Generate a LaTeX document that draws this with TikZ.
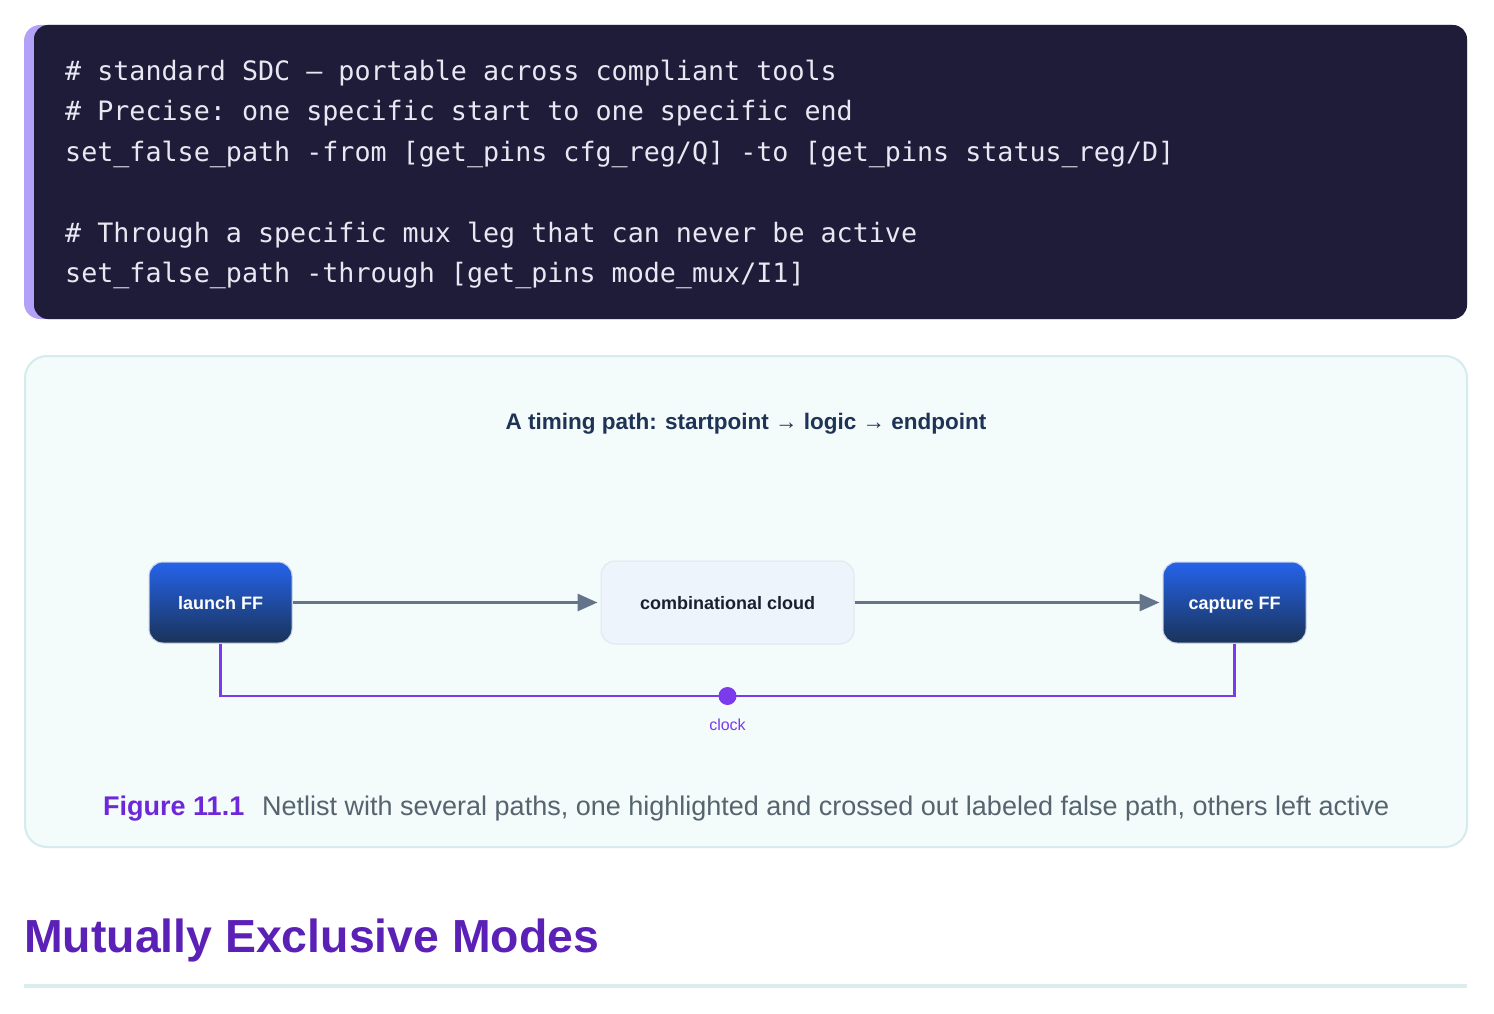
\documentclass[tikz,border=0pt]{standalone}
\usepackage{fontspec}
\setmainfont{Liberation Sans}
\setmonofont{DejaVu Sans Mono}
\usetikzlibrary{arrows.meta}

\definecolor{codebg}{HTML}{1F1C3A}
\definecolor{codebar}{HTML}{B3A1F8}
\definecolor{codefg}{HTML}{E8E8F2}
\definecolor{figbg}{HTML}{F3FBFB}
\definecolor{figedge}{HTML}{D6EBED}
\definecolor{titlefg}{HTML}{1E3355}
\definecolor{fftop}{HTML}{2563EB}
\definecolor{ffbot}{HTML}{1A3358}
\definecolor{ffedge}{HTML}{C9D3E2}
\definecolor{cloudbg}{HTML}{EEF4FB}
\definecolor{cloudedge}{HTML}{E0E7EF}
\definecolor{cloudfg}{HTML}{1A2030}
\definecolor{wire}{HTML}{64748B}
\definecolor{clk}{HTML}{7C3AED}
\definecolor{fignum}{HTML}{6D28D9}
\definecolor{capfg}{HTML}{55646E}
\definecolor{headfg}{HTML}{5B21B6}
\definecolor{rulefg}{HTML}{DCEDF0}

\tikzset{
  codeline/.style={anchor=base west, inner sep=0pt, text=codefg,
    font=\ttfamily\fontsize{26.7}{30}\selectfont},
  ffbox/.style={rounded corners=14pt, top color=fftop, bottom color=ffbot,
    draw=ffedge, line width=1pt, minimum width=143pt, minimum height=81pt,
    text=white, font=\fontsize{18}{20}\selectfont\bfseries,
    text height=14pt, text depth=0pt},
  cloudbox/.style={rounded corners=14pt, fill=cloudbg, draw=cloudedge,
    line width=1pt, minimum width=253pt, minimum height=83pt, text=cloudfg,
    font=\fontsize{18}{20}\selectfont\bfseries, text height=14pt, text depth=0pt},
  wirearrow/.style={draw=wire, line width=3pt,
    -{Triangle[length=20pt,width=17pt]}, shorten >=3pt},
}

\begin{document}
\begin{tikzpicture}[x=1pt,y=-1pt]
  \useasboundingbox (0,0) rectangle (1494,1014);
  \fill[white] (0,0) rectangle (1494,1014);

  % code panel
  \fill[codebar, rounded corners=16pt] (24,25) rectangle (1467,319);
  \fill[codebg, rounded corners=14pt] (34,25) rectangle (1467,319);
  \node[codeline] (c1) at (65,81) {\# standard SDC — portable across compliant tools};
  \node[codeline] (c2) at (65,121) {\# Precise: one specific start to one specific end};
  \node[codeline] (c3) at (65,161) {set\_false\_path -from [get\_pins cfg\_reg/Q] -to [get\_pins status\_reg/D]};
  \node[codeline] (c4) at (65,242) {\# Through a specific mux leg that can never be active};
  \node[codeline] (c5) at (65,282) {set\_false\_path -through [get\_pins mode\_mux/I1]};

  % figure panel
  \draw[figedge, fill=figbg, line width=2pt, rounded corners=22pt] (25,356) rectangle (1467,847);
  \node[anchor=base, inner sep=0pt, text=titlefg, font=\fontsize{22.5}{24}\selectfont\bfseries]
    (title) at (746,429) {A timing path: startpoint → logic → endpoint};

  \node[ffbox] (launch) at (220.5,602.5) {launch FF};
  \node[cloudbox] (cloud) at (727.5,602.5) {combinational cloud};
  \node[ffbox] (capture) at (1234.5,602.5) {capture FF};

  \draw[wirearrow] (launch.east) -- (cloud.west);
  \draw[wirearrow] (cloud.east) -- (capture.west);

  \node[circle, fill=clk, inner sep=0pt, minimum size=18pt] (clkdot) at (727.5,696) {};
  \draw[clk, line width=2.5pt] (launch.south) |- (clkdot.center) -| (capture.south);
  \node[anchor=base, inner sep=0pt, text=clk, font=\fontsize{16}{18}\selectfont]
    (clklabel) at (727.5,730) {clock};

  \node[anchor=base west, inner sep=0pt, text=fignum, font=\fontsize{27}{29}\selectfont\bfseries]
    (fignr) at (103,815) {Figure 11.1};
  \node[anchor=base west, inner sep=0pt, text=capfg, font=\fontsize{27}{29}\selectfont]
    (figcap) at (262,815) {Netlist with several paths, one highlighted and crossed out labeled false path, others left active};

  % section heading
  \node[anchor=base west, inner sep=0pt, text=headfg, font=\fontsize{46.4}{50}\selectfont\bfseries]
    (heading) at (24,952) {Mutually Exclusive Modes};
  \fill[rulefg] (24,984) rectangle (1467,988);
\end{tikzpicture}
\end{document}
